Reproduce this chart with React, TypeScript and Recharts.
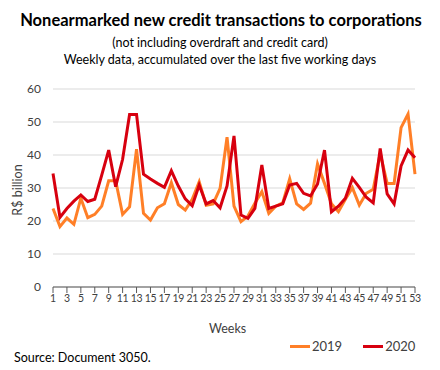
import React from "react";
import { LineChart, Line, XAxis, YAxis, CartesianGrid } from "recharts";

const weeks = Array.from({ length: 53 }, (_, i) => i + 1);

const values2019 = [
  23.8, 18.3, 20.9, 19.0, 26.9, 21.0, 22.0, 24.5, 32.2, 32.2,
  22.0, 24.3, 41.8, 22.3, 20.3, 24.0, 25.2, 31.6, 25.0, 23.3,
  26.6, 31.9, 24.8, 25.2, 29.9, 45.4, 24.5, 19.8, 21.5, 25.4,
  28.9, 22.3, 24.5, 25.5, 32.8, 25.2, 23.5, 25.4, 37.3, 31.4,
  25.2, 22.8, 26.6, 30.1, 24.8, 28.4, 29.6, 40.5, 31.4, 31.4,
  48.3, 52.4, 34.2,
];

const values2020 = [
  34.4, 21.1, 23.8, 26.0, 27.9, 25.9, 26.6, 33.9, 41.5, 30.4,
  38.7, 52.3, 52.3, 34.2, 32.7, 31.4, 30.2, 35.2, 30.6, 26.7,
  24.6, 30.9, 25.2, 26.2, 24.0, 30.6, 45.8, 21.8, 20.8, 23.8,
  37.0, 23.8, 24.5, 25.2, 30.9, 31.4, 28.4, 27.6, 31.2, 41.5,
  22.8, 24.5, 26.9, 32.9, 30.2, 27.2, 25.5, 42.0, 28.2, 25.2,
  36.7, 41.5, 39.2,
];

const xTicks = weeks.filter((w) => w % 2 === 1);
const yTicks = [0, 10, 20, 30, 40, 50, 60];

const ORANGE = "#ff7f27";
const RED = "#d7000f";
const FONT = "Lato, 'Open Sans', sans-serif";

const data = weeks.map((w, i) => ({
  week: w,
  y2019: values2019[i],
  y2020: values2020[i],
}));

const text = (style: React.CSSProperties): React.CSSProperties => ({
  position: "absolute",
  fontFamily: FONT,
  color: "#000",
  whiteSpace: "nowrap",
  ...style,
});

export default function App() {
  return (
    <div
      style={{
        position: "absolute",
        left: 0,
        top: 0,
        width: 440,
        height: 370,
        background: "#fff",
        fontFamily: FONT,
      }}
    >
      <div style={text({ left: 0, width: 442, top: 10, textAlign: "center", fontSize: 16.5, fontWeight: 700 })}>
        Nonearmarked new credit transactions to corporations
      </div>
      <div style={text({ left: 0, width: 440, top: 35, textAlign: "center", fontSize: 12.5 })}>
        (not including overdraft and credit card)
      </div>
      <div style={text({ left: 0, width: 440, top: 52, textAlign: "center", fontSize: 12.5 })}>
        Weekly data, accumulated over the last five working days
      </div>

      <LineChart
        width={440}
        height={370}
        data={data}
        margin={{ top: 89, right: 25, bottom: 53, left: 23 }}
      >
        <CartesianGrid vertical={false} stroke="#d9d9d9" strokeWidth={1} />
        <XAxis
          dataKey="week"
          type="number"
          domain={[1, 53]}
          ticks={xTicks}
          interval={0}
          axisLine={{ stroke: "#595959" }}
          tickLine={{ stroke: "#595959" }}
          tickSize={6}
          tick={{ fontSize: 10.5, fill: "#404040", fontFamily: FONT, letterSpacing: -0.3 }}
          height={30}
        />
        <YAxis
          domain={[0, 60]}
          ticks={yTicks}
          axisLine={false}
          tickLine={false}
          width={30}
          tickMargin={6}
          tick={{ fontSize: 12, fill: "#404040", fontFamily: FONT }}
        />
        <Line
          type="linear"
          dataKey="y2019"
          stroke={ORANGE}
          strokeWidth={3}
          dot={false}
          isAnimationActive={false}
        />
        <Line
          type="linear"
          dataKey="y2020"
          stroke={RED}
          strokeWidth={3}
          dot={false}
          isAnimationActive={false}
        />
      </LineChart>

      <div
        style={text({
          left: 17,
          top: 190,
          fontSize: 12.5,
          color: "#404040",
          transform: "translate(-50%, -50%) rotate(-90deg)",
        })}
      >
        R$ billion
      </div>
      <div style={text({ left: 209, top: 321, fontSize: 12.5, color: "#404040" })}>Weeks</div>

      <div style={text({ left: 290, top: 338, fontSize: 13, color: "#404040", display: "flex", alignItems: "center" })}>
        <span style={{ display: "inline-block", width: 20, height: 3, background: ORANGE, marginRight: 2 }} />
        <span>2019</span>
        <span style={{ display: "inline-block", width: 20, height: 3, background: RED, marginLeft: 21, marginRight: 2 }} />
        <span>2020</span>
      </div>

      <div style={text({ left: 14, top: 350, fontSize: 12.5 })}>Source: Document 3050.</div>
    </div>
  );
}
